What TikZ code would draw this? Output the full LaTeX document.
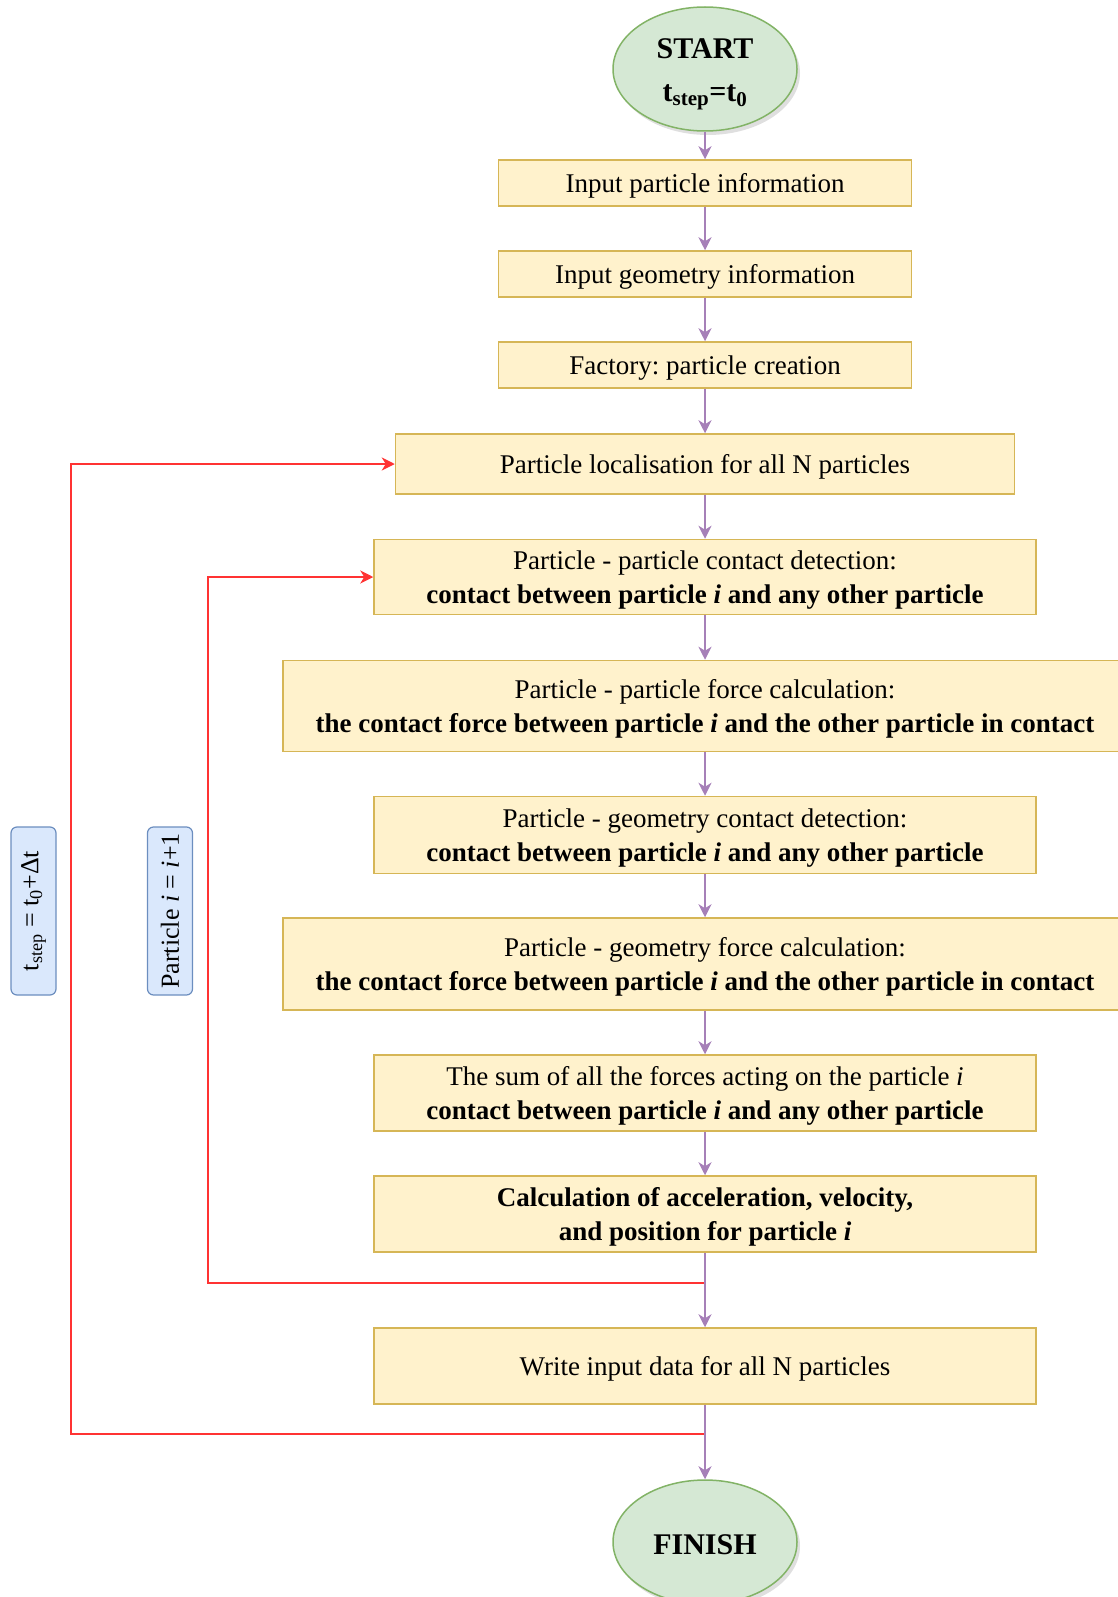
\documentclass[tikz,border=0pt]{standalone}
\usepackage{fontspec}
\setmainfont{Liberation Serif}
\frenchspacing
\usetikzlibrary{arrows.meta,shadows,shapes.geometric}
\definecolor{boxfill}{HTML}{FFF2CC}
\definecolor{boxdraw}{HTML}{D6B656}
\definecolor{ellfill}{HTML}{D5E8D4}
\definecolor{elldraw}{HTML}{82B366}
\definecolor{lblfill}{HTML}{DAE8FC}
\definecolor{lbldraw}{HTML}{6C8EBF}
\definecolor{flow}{HTML}{A680B8}
\definecolor{loopred}{HTML}{FF3333}
\newcommand\flowbox[5]{%
  \node[procbox,minimum width=#3pt,minimum height=#4pt] (#1) at (705,#2) {};
  \node[boxtext] (#1t) at ([yshift=-3pt]#1.center) {#5};}
\begin{document}
\begin{tikzpicture}[x=1pt,y=-1pt,
  procbox/.style={draw=boxdraw,fill=boxfill,line width=1.5pt,inner sep=0pt},
  boxtext/.style={align=center,inner sep=0pt,font=\fontsize{27}{34}\selectfont\frenchspacing},
  termnode/.style={ellipse,draw=elldraw,fill=ellfill,line width=1.5pt,inner sep=0pt,
    minimum width=184pt,minimum height=124pt,
    drop shadow={opacity=0.25,shadow xshift=3pt,shadow yshift=-4pt}},
  termtext/.style={align=center,inner sep=0pt,font=\fontsize{30}{43}\selectfont\bfseries},
  lblbox/.style={draw=lbldraw,fill=lblfill,line width=1.2pt,rounded corners=6pt,rotate=90,
    minimum width=168pt,minimum height=45pt,inner sep=0pt,font=\fontsize{26}{30}\selectfont},
  flowarrow/.style={draw=flow,line width=2pt,-{Stealth[length=13pt,width=13pt,inset=4pt]}},
  looparrow/.style={draw=loopred,line width=1.8pt,-{Stealth[length=13pt,width=13pt,inset=4pt]}}]
\useasboundingbox (0,0) rectangle (1118,1597);

\node[termnode] (start) at (705,69) {};
\node[termtext] (startt) at ([yshift=-5pt]start.center) {START\\t\textsubscript{step}=t\textsubscript{0}};
\flowbox{b1}{183}{413}{46}{Input particle information}
\flowbox{b2}{274}{413}{46}{Input geometry information}
\flowbox{b3}{365}{413}{46}{Factory: particle creation}
\flowbox{b4}{464}{619}{60}{Particle localisation for all N particles}
\flowbox{b5}{577}{662}{75}{Particle - particle contact detection:\\\textbf{contact between particle \textit{i} and any other particle}}
\flowbox{b6}{706}{844}{91}{Particle - particle force calculation:\\\textbf{the contact force between particle \textit{i} and the other particle in contact}}
\flowbox{b7}{835}{662}{77}{Particle - geometry contact detection:\\\textbf{contact between particle \textit{i} and any other particle}}
\flowbox{b8}{964}{844}{92}{Particle - geometry force calculation:\\\textbf{the contact force between particle \textit{i} and the other particle in contact}}
\flowbox{b9}{1093}{662}{76}{The sum of all the forces acting on the particle \textit{i}\\\textbf{contact between particle \textit{i} and any other particle}}
\flowbox{b10}{1214}{662}{76}{\textbf{Calculation of acceleration, velocity,}\\\textbf{and position for particle \textit{i}}}
\flowbox{b11}{1366}{662}{76}{Write input data for all N particles}
\node[termnode] (finish) at (705,1542) {};
\node[termtext] (finisht) at ([yshift=-3pt]finish.center) {FINISH};

\node[lblbox] (l1) at (33.5,911) {t\textsubscript{step} = t\textsubscript{0}+Δt};
\node[lblbox] (l2) at (170,911) {Particle \textit{i} = \textit{i}+1};

\draw[flowarrow] (start) -- (b1);
\draw[flowarrow] (b1) -- (b2);
\draw[flowarrow] (b2) -- (b3);
\draw[flowarrow] (b3) -- (b4);
\draw[flowarrow] (b4) -- (b5);
\draw[flowarrow] (b5) -- (b6);
\draw[flowarrow] (b6) -- (b7);
\draw[flowarrow] (b7) -- (b8);
\draw[flowarrow] (b8) -- (b9);
\draw[flowarrow] (b9) -- (b10);

\coordinate (j1) at (705,1283);
\coordinate (j2) at (705,1434);
\coordinate (x1) at (208,0);
\coordinate (x2) at (71,0);
\draw[looparrow] (j1) -- (j1 -| x1) |- (b5.west);
\draw[looparrow] (j2) -- (j2 -| x2) |- (b4.west);

\draw[flowarrow] (b10) -- (b11);
\draw[flowarrow] (b11) -- (finish);
\end{tikzpicture}
\end{document}
